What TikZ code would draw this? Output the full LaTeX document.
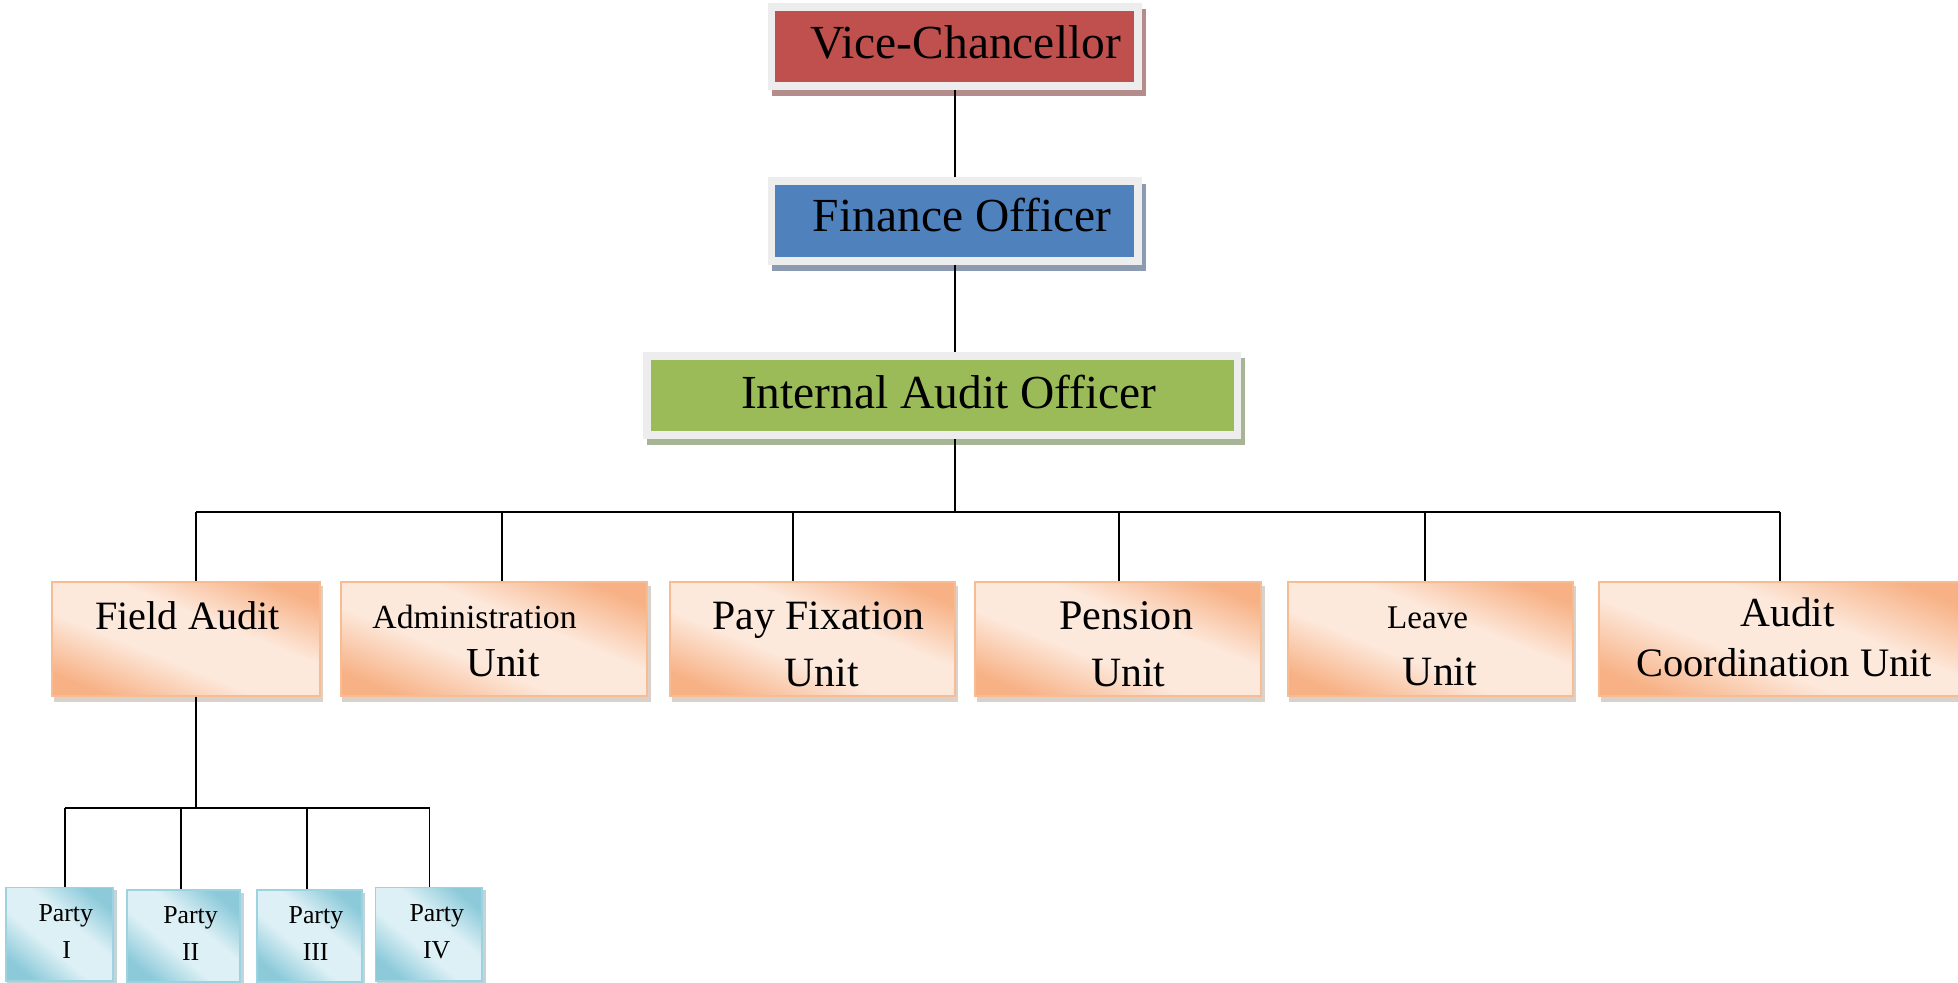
\documentclass[tikz,border=0pt]{standalone}
\usepackage{fontspec}
\setmainfont{Liberation Serif}
\definecolor{vcred}{HTML}{C0504D}
\definecolor{foblue}{HTML}{4F81BD}
\definecolor{iaogreen}{HTML}{9BBB59}
\definecolor{framegray}{HTML}{EDEDED}
\definecolor{vcshadow}{HTML}{B48C8C}
\definecolor{foshadow}{HTML}{8C9BB2}
\definecolor{iaoshadow}{HTML}{A8B496}
\definecolor{ordark}{HTML}{F7B185}
\definecolor{orlight}{HTML}{FDE9DC}
\definecolor{orborder}{HTML}{F8BC92}
\definecolor{orshadow}{HTML}{D9D1CA}
\definecolor{bldark}{HTML}{8CCADA}
\definecolor{bllight}{HTML}{DDF0F5}
\definecolor{blborder}{HTML}{9DD3E0}
\definecolor{blshadow}{HTML}{C4D3D8}
\pgfdeclarehorizontalshading{orshade}{100bp}{color(0bp)=(ordark); color(24bp)=(ordark); color(42bp)=(orlight); color(58bp)=(orlight); color(76bp)=(ordark); color(100bp)=(ordark)}
\pgfdeclarehorizontalshading{blshade}{100bp}{color(0bp)=(bldark); color(24bp)=(bldark); color(42bp)=(bllight); color(58bp)=(bllight); color(76bp)=(bldark); color(100bp)=(bldark)}
\newcommand\mkbox[6]{\node[#1, minimum width={(#5)-(#3)}, minimum height={(#6)-(#4)}] (#2) at ({((#3)+(#5))/2},{((#4)+(#6))/2}) {};}
\begin{document}
\begin{tikzpicture}[x=1pt,y=-1pt,
  topbox/.style={draw=framegray, line width=6pt, inner sep=0pt,
    preaction={draw=#1, fill=#1, transform canvas={shift={(3pt,-5pt)}}}},
  unitbox/.style={draw=orborder, line width=1.5pt, inner sep=0pt,
    preaction={draw=orshadow, fill=orshadow, transform canvas={shift={(2pt,-4pt)}}},
    shade, shading=orshade, shading angle=68},
  partybox/.style={draw=blborder, line width=1.5pt, inner sep=0pt,
    preaction={draw=blshadow, fill=blshadow, transform canvas={shift={(2pt,-3pt)}}},
    shade, shading=blshade, shading angle=50},
  txt/.style={anchor=base, inner sep=0pt},
  conn/.style={draw=black, line width=1.4pt}]
\clip (0,0) rectangle (1568,787.2);
\fill[white] (0,0) rectangle (1568,787.2);

% top boxes
\mkbox{topbox=vcshadow, fill=vcred}{vc}{618}{5.5}{911.5}{69}
\mkbox{topbox=foshadow, fill=foblue}{fo}{618}{145}{911.5}{209}
\mkbox{topbox=iaoshadow, fill=iaogreen}{iao}{518}{285}{991}{348.5}

% unit boxes
\mkbox{unitbox}{fa}{41.75}{465.75}{256.25}{557.25}
\mkbox{unitbox}{adm}{272.75}{465.75}{518.25}{557.25}
\mkbox{unitbox}{pay}{536.5}{465.75}{764.75}{557.25}
\mkbox{unitbox}{pen}{781}{465.75}{1010}{557.25}
\mkbox{unitbox}{lea}{1031.25}{465.75}{1259.5}{557.25}
\mkbox{unitbox}{acu}{1280.75}{465.75}{1575}{557.25}

% party boxes
\mkbox{partybox}{p1}{4.75}{710.75}{90.75}{785.5}
\mkbox{partybox}{p2}{101.75}{712.75}{192.25}{786.5}
\mkbox{partybox}{p3}{205.75}{712.75}{289.75}{786.5}
\mkbox{partybox}{p4}{300.75}{710.75}{386.25}{785.5}

% connector coordinates
\coordinate (bus) at (764.75,409.8);
\coordinate (dfa) at (157,409.8);
\coordinate (dadm) at (401.8,409.8);
\coordinate (dpay) at (634.8,409.8);
\coordinate (dpen) at (896.3,409.8);
\coordinate (dlea) at (1141.1,409.8);
\coordinate (dacu) at (1425.7,409.8);
\coordinate (pbus) at (157,647);
\coordinate (dp1) at (52,647);
\coordinate (dp2) at (145,647);
\coordinate (dp3) at (245.6,647);
\coordinate (dp4) at (344,647);

\draw[conn] (vc.south) -- (fo.north);
\draw[conn] (fo.south) -- (fo.south |- iao.north);
\draw[conn] (iao.south -| bus) -- (bus);
\draw[conn] (dfa) -- (dacu);
\foreach \d/\b in {dfa/fa,dadm/adm,dpay/pay,dpen/pen,dlea/lea,dacu/acu}
  \draw[conn] (\d) -- (\d |- \b.north);
\draw[conn] (fa.south -| pbus) -- (pbus);
\draw[conn] (dp1) -- (dp4);
\foreach \d/\b in {dp1/p1,dp2/p2,dp3/p3,dp4/p4}
  \draw[conn] (\d) -- (\d |- \b.north);

% texts
\node[txt, font=\fontsize{38}{40}\selectfont] (vct) at (773.2,46.7) {Vice-Chancellor};
\node[txt, font=\fontsize{38}{40}\selectfont] (fot) at (770.4,185.5) {Finance Officer};
\node[txt, font=\fontsize{38}{40}\selectfont] (iaot) at (759.8,327.5) {Internal Audit Officer};

\node[txt, font=\fontsize{32.2}{34}\selectfont] (fat) at (150.2,504) {Field Audit};
\node[txt, font=\fontsize{27}{29}\selectfont] (admt1) at (380,503) {Administration};
\node[txt, font=\fontsize{33}{35}\selectfont] (admt2) at (402.8,542) {Unit};
\node[txt, font=\fontsize{33.4}{35}\selectfont] (payt1) at (655.4,504) {Pay Fixation};
\node[txt, font=\fontsize{33.4}{35}\selectfont] (payt2) at (658,549.4) {Unit};
\node[txt, font=\fontsize{33.8}{35}\selectfont] (pent1) at (902,504) {Pension};
\node[txt, font=\fontsize{33.4}{35}\selectfont] (pent2) at (903.6,549.4) {Unit};
\node[txt, font=\fontsize{26.5}{28}\selectfont] (leat1) at (1143.2,503.5) {Leave};
\node[txt, font=\fontsize{33.4}{35}\selectfont] (leat2) at (1153.2,549) {Unit};
\node[txt, font=\fontsize{33.1}{35}\selectfont] (acut1) at (1431.5,501.8) {Audit};
\node[txt, font=\fontsize{32.4}{34}\selectfont] (acut2) at (1428.8,542) {Coordination Unit};

\node[txt, font=\fontsize{20.7}{22}\selectfont] (p1t1) at (52.7,737.6) {Party};
\node[txt, font=\fontsize{20.7}{22}\selectfont] (p1t2) at (53.4,767.4) {I};
\node[txt, font=\fontsize{20.7}{22}\selectfont] (p2t1) at (152.6,739.4) {Party};
\node[txt, font=\fontsize{20.7}{22}\selectfont] (p2t2) at (152.7,769) {II};
\node[txt, font=\fontsize{20.7}{22}\selectfont] (p3t1) at (253,739.4) {Party};
\node[txt, font=\fontsize{20.7}{22}\selectfont] (p3t2) at (252.8,769) {III};
\node[txt, font=\fontsize{20.7}{22}\selectfont] (p4t1) at (349.8,737.6) {Party};
\node[txt, font=\fontsize{20.7}{22}\selectfont] (p4t2) at (349.7,767.4) {IV};
\end{tikzpicture}
\end{document}
